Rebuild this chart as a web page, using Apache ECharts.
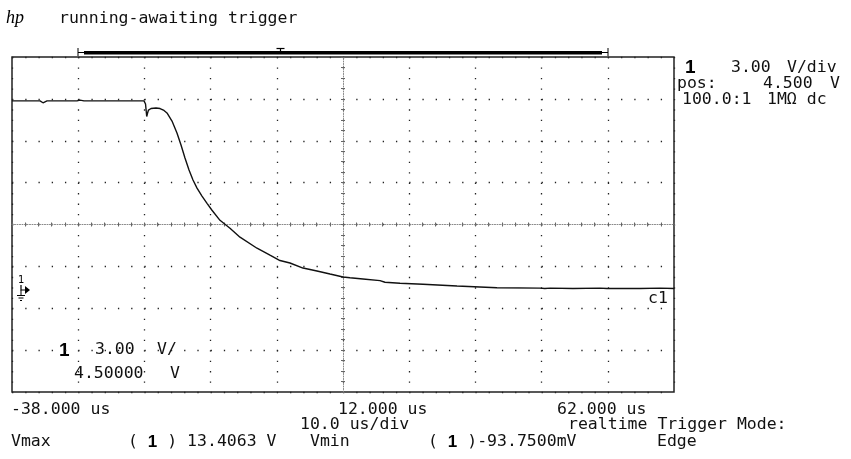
<!DOCTYPE html>
<html><head><meta charset="utf-8">
<script src="https://cdn.jsdelivr.net/npm/echarts@6/dist/echarts.min.js"></script>
<style>html,body{margin:0;padding:0;background:#fff}#c{width:851px;height:459px}</style>
</head><body><div id="c"></div>
<script>
// ---- trace data (time in microseconds, voltage in volts) ----
const timeUs = [-38, -33.77, -33.32, -33.02, -32.71, -28.18, -27.73, -27.12, -18.06, -17.83, -17.65, -17.52, -17.38, -17.00, -16.25, -15.64, -15.04, -14.59, -13.83, -13.08, -12.47, -11.87, -11.26, -10.66, -10.05, -9.30, -8.54, -7.79, -6.58, -5.07, -3.56, -0.99, 0.97, 2.48, 3.99, 5.96, 8.07, 10.04, 12.00, 13.06, 15.02, 17.59, 18.34, 20.61, 24.08, 29.22, 35.26, 41.76, 42.5, 43.3, 46.74, 50.82, 51.88, 56.86, 59.88, 62];
const voltsV = [13.36, 13.36, 13.22, 13.29, 13.36, 13.36, 13.41, 13.36, 13.36, 13.13, 12.24, 12.49, 12.70, 12.81, 12.85, 12.81, 12.67, 12.49, 11.91, 11.06, 10.20, 9.26, 8.40, 7.69, 7.11, 6.54, 6.02, 5.52, 4.80, 4.23, 3.59, 2.80, 2.30, 1.92, 1.74, 1.38, 1.17, 0.95, 0.74, 0.69, 0.60, 0.48, 0.36, 0.29, 0.22, 0.09, -0.03, -0.06, -0.09, -0.06, -0.09, -0.06, -0.09, -0.09, -0.06, -0.09];

// ---- scope settings / labels ----
const timeRange = [-38, 62];          // us, 10 us/div
const voltRange = [-7.5, 16.5];       // V, 3.00 V/div, pos 4.5 V
const timeTickLabels = ['-38.000 us', '12.000 us', '62.000 us'];
const statusText = 'running-awaiting trigger';
const channelReadout = ['3.00', 'V/div', 'pos:', '4.500', 'V', '100.0:1', '1MΩ dc'];
const measurements = ['Vmax', '( {b|1} ) 13.4063 V', 'Vmin', '( {b|1} )-93.7500mV'];
const footerText = ['10.0 us/div', 'realtime Trigger Mode:', 'Edge'];

const MONO = 'DejaVu Sans Mono';
const FS = 16.5;
function txt(x, y, s, extra) {
  return {
    type: 'text', x: x, y: y, silent: true,
    style: Object.assign({ text: s, fontFamily: MONO, fontSize: FS, fill: '#111', align: 'left', verticalAlign: 'middle',
      rich: { b: { fontFamily: 'Liberation Sans', fontWeight: 'bold', fontSize: 17, fill: '#000' } } }, extra || {})
  };
}
const bold1 = (x, y, fs) => ({ type: 'text', x: x, y: y, silent: true,
  style: { text: '1', fontFamily: 'Liberation Sans', fontWeight: 'bold', fontSize: fs || 19, fill: '#000', verticalAlign: 'middle' } });

const chart = echarts.init(document.getElementById('c'), null, { renderer: 'canvas' });

const centerLine = { color: '#888', width: 1, type: [1, 1.5] };
const centerTick = { color: '#666', width: 1 };
const option = {
  animation: false,
  backgroundColor: '#fff',
  grid: { left: 12, top: 57, width: 662, height: 335, show: true, borderColor: '#222', borderWidth: 1.5, backgroundColor: 'transparent' },
  xAxis: [
    { type: 'value', min: timeRange[0], max: timeRange[1], show: false },
    { type: 'value', min: 0, max: 10, interval: 1, axisLine: { show: false }, axisTick: { show: false }, axisLabel: { show: false },
      splitLine: { show: true, lineStyle: { color: '#222', width: 1.3, type: [1.3, 9.17] } } },
    { type: 'value', min: -25, max: 25, interval: 1,
      axisLine: { show: true, onZero: true, onZeroAxisIndex: 2, lineStyle: centerLine },
      axisTick: { show: true, length: 2, inside: false, lineStyle: centerTick }, axisLabel: { show: false }, splitLine: { show: false } },
    { type: 'value', min: -25, max: 25, interval: 1,
      axisLine: { show: false, onZero: true, onZeroAxisIndex: 2 },
      axisTick: { show: true, length: 2, inside: true, lineStyle: centerTick }, axisLabel: { show: false }, splitLine: { show: false } }
  ],
  yAxis: [
    { type: 'value', min: voltRange[0], max: voltRange[1], show: false },
    { type: 'value', min: 0, max: 8, interval: 1, axisLine: { show: false }, axisTick: { show: false }, axisLabel: { show: false },
      splitLine: { show: true, lineStyle: { color: '#222', width: 1.3, type: [1.3, 11.94] } } },
    { type: 'value', min: -16, max: 16, interval: 1,
      axisLine: { show: true, onZero: true, onZeroAxisIndex: 2, lineStyle: centerLine },
      axisTick: { show: true, length: 2, inside: false, lineStyle: centerTick }, axisLabel: { show: false }, splitLine: { show: false } },
    { type: 'value', min: -16, max: 16, interval: 1,
      axisLine: { show: false, onZero: true, onZeroAxisIndex: 2 },
      axisTick: { show: true, length: 2, inside: true, lineStyle: centerTick }, axisLabel: { show: false }, splitLine: { show: false } }
  ],
  series: [{
    type: 'line', xAxisIndex: 0, yAxisIndex: 0, showSymbol: false, symbol: 'none', clip: true,
    lineStyle: { color: '#111', width: 1.4 },
    data: timeUs.map((t, i) => [t, voltsV[i]]),
    z: 5
  }],
  graphic: { elements: [
    // hp logo + status
    { type: 'text', x: 6, y: 18, silent: true, style: { text: 'hp', fontFamily: 'Liberation Serif', fontStyle: 'italic', fontSize: 18, fill: '#000', verticalAlign: 'middle' } },
    txt(59, 19, statusText),
    // memory bar
    { type: 'rect', silent: true, shape: { x: 84, y: 51, width: 518, height: 3.5 }, style: { fill: '#000' } },
    { type: 'line', silent: true, shape: { x1: 78, y1: 52.5, x2: 84, y2: 52.5 }, style: { stroke: '#000', lineWidth: 1 } },
    { type: 'line', silent: true, shape: { x1: 78, y1: 48, x2: 78, y2: 56 }, style: { stroke: '#000', lineWidth: 1 } },
    { type: 'line', silent: true, shape: { x1: 602, y1: 52.5, x2: 608, y2: 52.5 }, style: { stroke: '#000', lineWidth: 1 } },
    { type: 'line', silent: true, shape: { x1: 608, y1: 48, x2: 608, y2: 56 }, style: { stroke: '#000', lineWidth: 1 } },
    { type: 'line', silent: true, shape: { x1: 276.5, y1: 48.5, x2: 284.5, y2: 48.5 }, style: { stroke: '#000', lineWidth: 1.2 } },
    { type: 'line', silent: true, shape: { x1: 280.5, y1: 48.5, x2: 280.5, y2: 52 }, style: { stroke: '#000', lineWidth: 1.2 } },
    // channel readout (right)
    bold1(685, 68),
    txt(731, 68, channelReadout[0]), txt(787, 68, channelReadout[1]),
    txt(677, 84, channelReadout[2]), txt(763, 84, channelReadout[3]), txt(830, 84, channelReadout[4]),
    txt(682, 100, channelReadout[5]), txt(767, 100, channelReadout[6]),
    // in-plot readout
    bold1(59, 351),
    txt(95, 350, channelReadout[0]), txt(157, 350, 'V/'),
    txt(74, 374, '4.50000'), txt(170, 374, 'V'),
    txt(648, 299, 'c1'),
    // ground marker
    { type: 'text', x: 18, y: 280, silent: true, style: { text: '1', fontFamily: 'DejaVu Sans', fontSize: 10, fill: '#000', verticalAlign: 'middle' } },
    { type: 'polyline', silent: true, shape: { points: [[21, 285], [21, 290], [25, 290]] }, style: { stroke: '#000', lineWidth: 1.2, fill: null } },
    { type: 'polygon', silent: true, shape: { points: [[25, 286], [30, 290], [25, 294]] }, style: { fill: '#000' } },
    { type: 'line', silent: true, shape: { x1: 21, y1: 290, x2: 21, y2: 295 }, style: { stroke: '#000', lineWidth: 1 } },
    { type: 'line', silent: true, shape: { x1: 17, y1: 295.5, x2: 25, y2: 295.5 }, style: { stroke: '#000', lineWidth: 1 } },
    { type: 'line', silent: true, shape: { x1: 18.5, y1: 298, x2: 23.5, y2: 298 }, style: { stroke: '#000', lineWidth: 1 } },
    { type: 'line', silent: true, shape: { x1: 20, y1: 300.5, x2: 22, y2: 300.5 }, style: { stroke: '#000', lineWidth: 1 } },
    // time labels
    txt(11, 410, timeTickLabels[0]), txt(338, 410, timeTickLabels[1]), txt(557, 410, timeTickLabels[2]),
    txt(300, 425, footerText[0]), txt(568, 425, footerText[1]),
    txt(11, 442, measurements[0]), txt(128, 442, measurements[1]),
    txt(310, 442, measurements[2]), txt(428, 442, measurements[3]),
    txt(657, 442, footerText[2])
  ] }
};
chart.setOption(option);
</script>
</body></html>
